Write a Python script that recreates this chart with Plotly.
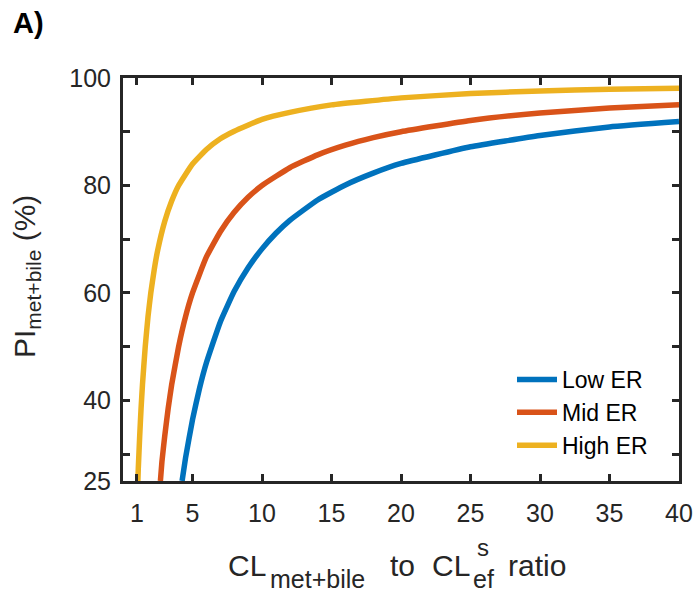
import plotly.graph_objects as go

# Values (smoothed readings)
low_x = [4.25, 4.5, 5, 5.5, 6, 7, 8, 9, 10, 11, 12, 14, 16, 18, 20, 25, 30, 35, 40]
low_y = [25, 29.3, 36.4, 42.2, 47, 54.6, 60.3, 64.7, 68.2, 71.1, 73.5, 77.3, 80.1, 82.3, 84.1, 87.2, 89.3, 90.9, 91.9]
mid_x = [2.69, 2.8, 3, 3.25, 3.5, 4, 4.5, 5, 6, 7, 8, 9, 10, 12, 14, 16, 18, 20, 25, 30, 35, 40]
mid_y = [25, 28.6, 33.3, 38.5, 42.9, 50, 55.6, 60, 66.7, 71.4, 75, 77.8, 80, 83.3, 85.7, 87.5, 88.9, 90, 92.1, 93.5, 94.4, 95]
high_x = [1.07, 1.1, 1.2, 1.3, 1.4, 1.6, 1.8, 2, 2.25, 2.5, 3, 3.5, 4, 5, 6, 7, 8, 10, 12, 15, 20, 25, 30, 35, 40]
high_y = [25, 27.3, 33.3, 38.5, 42.9, 50, 55.6, 60, 64.4, 68, 73.3, 77.1, 80, 84, 86.7, 88.7, 90.1, 92.3, 93.6, 95.0, 96.3, 97.1, 97.6, 97.9, 98.1]

series_names = ["Low ER", "Mid ER", "High ER"]
series_colors = ["#0072BD", "#D95319", "#EDB120"]

x_ticks = [1, 5, 10, 15, 20, 25, 30, 35, 40]
y_ticks = [25, 30, 40, 50, 60, 70, 80, 90, 100]
y_ticktext = ["25", "", "40", "", "60", "", "80", "", "100"]

# plot area position on screen (px) -> paper coords
PL, PR, PT, PB = 123, 679, 78, 481
def px(x):
    return (x - PL) / (PR - PL)
def py(y):
    return (PB - y) / (PB - PT)

fig = go.Figure()
for xs, ys, nm, col in zip([low_x, mid_x, high_x], [low_y, mid_y, high_y], series_names, series_colors):
    fig.add_trace(go.Scatter(x=xs, y=ys, mode="lines", name=nm,
                             line=dict(color=col, width=5.5, shape="spline", smoothing=0.4)))

axcol = "#262626"
font = "Liberation Sans, Arial, sans-serif"
W, H = 696, 595
fig.update_layout(
    width=W, height=H,
    margin=dict(l=PL, r=W - PR, t=PT, b=H - PB),
    plot_bgcolor="white", paper_bgcolor="white",
    font=dict(family=font, color=axcol, size=25),
    showlegend=True,
    legend=dict(x=px(512), y=py(467), xanchor="left", yanchor="bottom",
                bgcolor="rgba(0,0,0,0)", font=dict(size=23, color="black"),
                tracegroupgap=0, itemwidth=40),
    xaxis=dict(range=[0, 40], tickvals=x_ticks, ticks="inside", ticklen=7, tickwidth=2.5,
               tickcolor=axcol, showline=True, linecolor=axcol, linewidth=3, mirror="ticks",
               showgrid=False, zeroline=False, tickfont=dict(size=25, color=axcol),
               ticklabelstandoff=8, automargin=False),
    yaxis=dict(range=[25, 100], tickvals=y_ticks, ticktext=y_ticktext, ticks="inside", ticklen=7,
               tickwidth=2.5, tickcolor=axcol, showline=True, linecolor=axcol, linewidth=3,
               mirror="ticks", showgrid=False, zeroline=False, tickfont=dict(size=25, color=axcol),
               ticklabelstandoff=4, automargin=False),
)

def txt(t, x, y, size, anchor="left", angle=0, color=axcol):
    fig.add_annotation(xref="paper", yref="paper", x=px(x), y=py(y), xanchor=anchor, yanchor="middle",
                       text=t, showarrow=False, textangle=angle,
                       font=dict(size=size, color=color, family=font))

# x-axis title, pieced together so that "s" and "ef" stack
txt("CL", 226, 565, 30)
txt("met+bile", 268, 579, 25)
txt("to", 388, 565, 30)
txt("CL", 430, 565, 30)
txt("s", 475, 547, 24)
txt("ef", 471, 579, 25)
txt("ratio", 506, 565, 30)
# y-axis title
txt("PI<sub>met+bile</sub> (%)", 26, 277, 30, anchor="center", angle=-90)
# panel label
txt("<b>A)</b>", 11, 23, 29, color="black")

fig.write_html("out.html", config={"displayModeBar": False},
               post_script="document.body.style.margin='0';document.body.style.overflow='hidden';")
